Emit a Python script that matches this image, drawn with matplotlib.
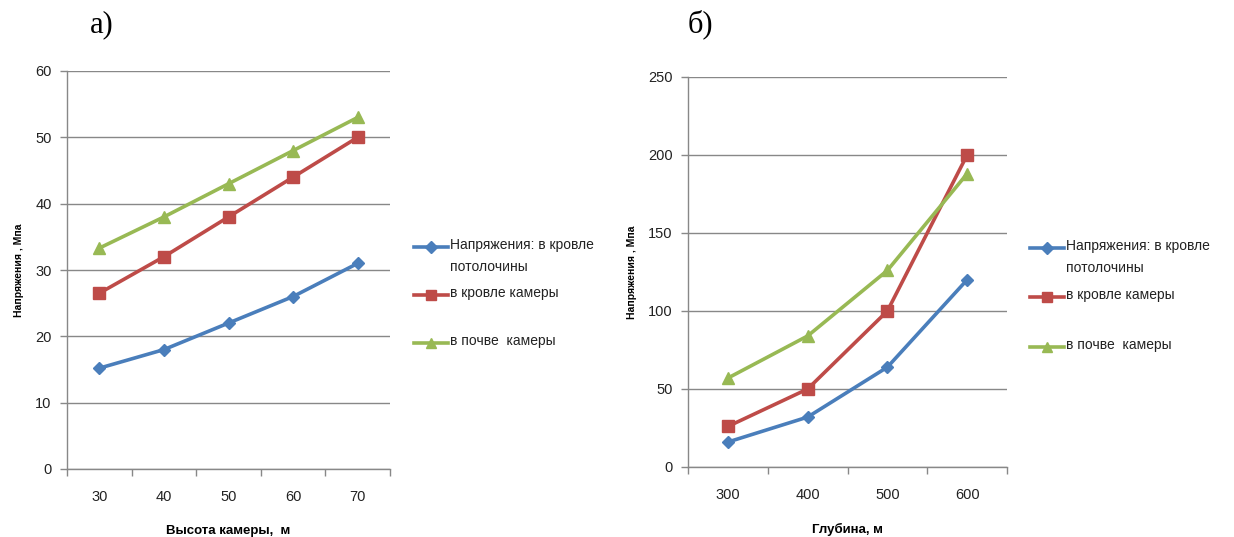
import matplotlib
matplotlib.use("Agg")
import matplotlib.pyplot as plt
from matplotlib.lines import Line2D

plt.rcParams['font.family'] = ['Liberation Sans Narrow', 'Liberation Sans', 'DejaVu Sans']

# Panel a: stress vs chamber height
heights = [30, 40, 50, 60, 70]
a_pillar = [15.2, 18, 22, 26, 31]
a_roof = [26.5, 32, 38, 44, 50]
a_floor = [33.3, 38, 43, 48, 53]

# Panel b: stress vs depth
depths = [300, 400, 500, 600]
b_pillar = [16, 32, 64, 120]
b_roof = [26, 50, 100, 200]
b_floor = [57, 84, 126, 188]

series_labels = ["Напряжения: в кровле\nпотолочины", "в кровле камеры", "в почве  камеры"]
colors = ["#4A7EBB", "#BE4B48", "#98B954"]
markers = ["D", "s", "^"]
msizes = [6.5, 8.5, 8.5]

W, H = 1234, 537
fig = plt.figure(figsize=(W / 100, H / 100), dpi=100)


def px(x, y):
    return x / W, 1 - y / H


def panel(rect, cats, series, ymax, ystep, xlabel, legend_xy, legend_dy):
    ax = fig.add_axes(rect)
    n = len(cats)
    pos = list(range(1, n + 1))
    for vals, c, m, ms in zip(series, colors, markers, msizes):
        ax.plot(pos, vals, color=c, lw=2.6, marker=m, ms=ms,
                markeredgecolor=c, solid_capstyle='round', zorder=3)
    ax.set_xlim(0.5, n + 0.5)
    ax.set_ylim(0, ymax)
    ax.set_yticks(range(0, ymax + 1, ystep))
    ax.set_xticks(pos)
    ax.set_xticklabels([str(c) for c in cats])
    ax.set_xticks([p + 0.5 for p in range(0, n + 1)], minor=True)
    ax.tick_params(axis='x', which='major', length=0, pad=15, labelsize=10.5,
                   colors='#222222', labelfontfamily='Liberation Sans')
    ax.tick_params(axis='x', which='minor', length=5, color='#888888', width=1)
    ax.tick_params(axis='y', length=5, color='#888888', width=1, pad=6, labelsize=10.5,
                   labelcolor='#222222', labelfontfamily='Liberation Sans')
    ax.grid(axis='y', color='#888888', lw=1)
    ax.set_axisbelow(True)
    for s in ['top', 'right']:
        ax.spines[s].set_visible(False)
    for s in ['left', 'bottom']:
        ax.spines[s].set_color('#888888')
        ax.spines[s].set_linewidth(1)
    ax.set_ylabel("Напряжения , Мпа", fontsize=7.5, fontweight='bold', labelpad=8)
    ax.set_xlabel(xlabel, fontsize=9.5, fontweight='bold', labelpad=15)

    lx, ly = legend_xy
    for i, (lab, c, m, ms) in enumerate(zip(series_labels, colors, markers, msizes)):
        y = ly + legend_dy[i]
        x0, y0 = px(lx, y)
        x1, _ = px(lx + 34, y)
        xm, _ = px(lx + 17, y)
        fig.add_artist(Line2D([x0, x1], [y0, y0], color=c, lw=2.6, transform=fig.transFigure))
        fig.add_artist(Line2D([xm], [y0], color=c, marker=m, ms=ms * 0.9, ls='none',
                              transform=fig.transFigure))
        tx, _ = px(lx + 36, y)
        fig.text(tx, y0 + 9 / H, lab, fontsize=10, va='top', ha='left', linespacing=1.75,
                 color='#222222')
    return ax


ax1 = panel([67 / W, 1 - 469 / H, 323 / W, 398 / H], heights,
            [a_pillar, a_roof, a_floor], 60, 10, "Высота камеры,  м",
            (414, 247), [0, 48, 96])
ax2 = panel([688 / W, 1 - 467 / H, 319 / W, 390 / H], depths,
            [b_pillar, b_roof, b_floor], 250, 50, "Глубина, м",
            (1030, 248), [0, 49, 99])

fig.text(*px(90, 32), "а)", fontsize=22, family='Liberation Serif', va='baseline')
fig.text(*px(688, 32), "б)", fontsize=22, family='Liberation Serif', va='baseline')

fig.savefig("out.png", dpi=100)
